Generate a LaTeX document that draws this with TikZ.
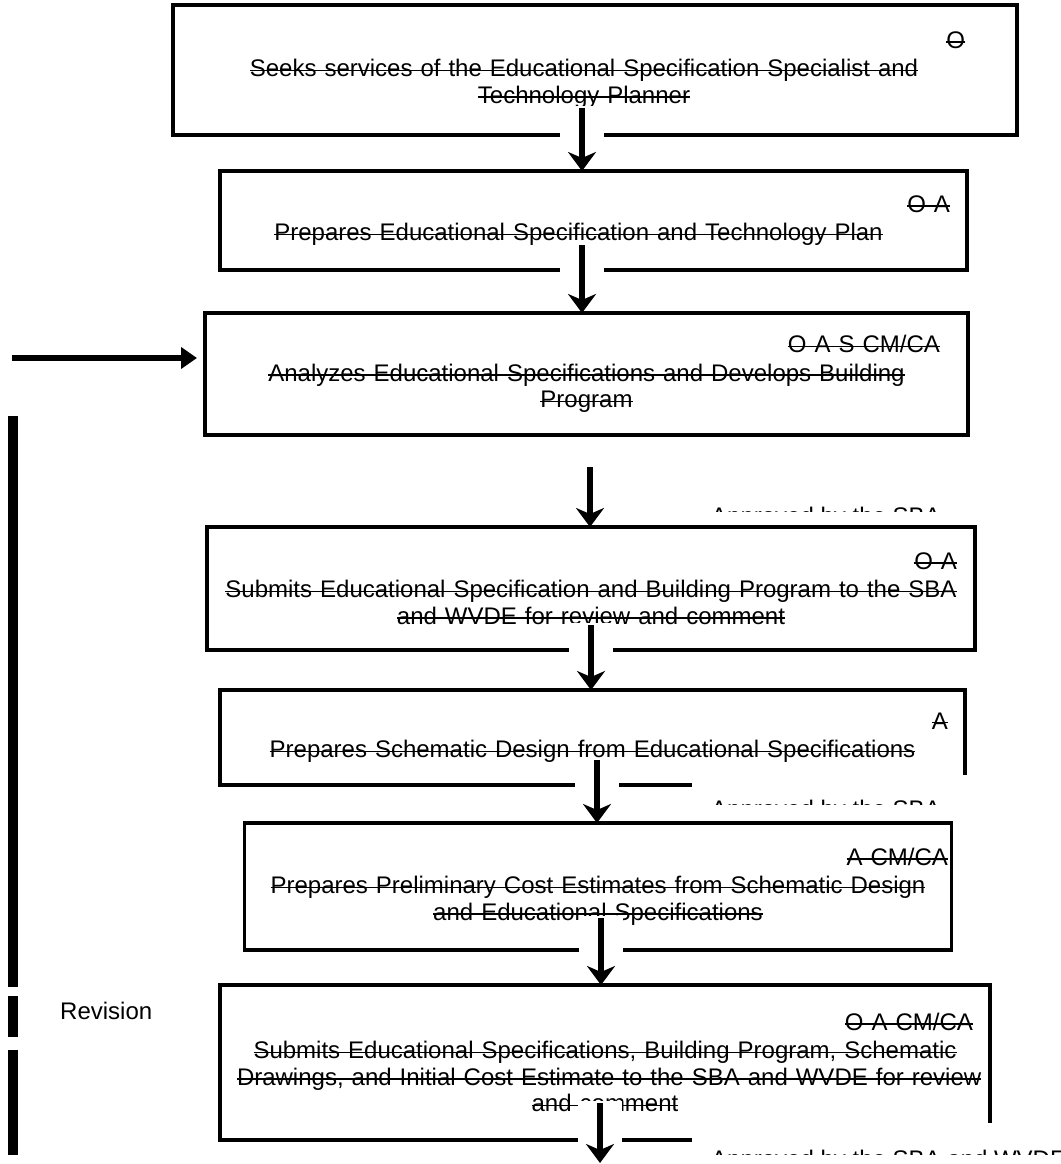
\documentclass[tikz,border=0pt]{standalone}
\usepackage{fontspec}
\setmainfont{Liberation Sans}
\usetikzlibrary{positioning,calc,arrows.meta}
\tikzset{
    >={Stealth[length=19pt,width=28pt,inset=6pt]},
    stepbox/.style={
        rectangle,
        draw=black, line width=3.5pt,
        outer sep=0pt,
        align=center,
        font={\fontsize{24pt}{26.5pt}\selectfont}
    },
    flow/.style={->, line width=6.5pt,
        preaction={draw=white, line width=44pt, arrows=-,
                   shorten >=18pt, shorten <=-2pt}},
    feed/.style={-{Triangle[length=16pt,width=21pt]}, line width=6.5pt},
    note/.style={anchor=base west, inner sep=0pt,
        font={\fontsize{24pt}{26.5pt}\selectfont}},
}
\newsavebox{\strikebox}
\newcommand{\strike}[1]{\leavevmode\sbox{\strikebox}{#1}%
    \rlap{\rule[5.6pt]{\wd\strikebox}{1.3pt}}\usebox{\strikebox}}
\newcommand{\who}[1]{\leavevmode\hspace*{\fill}\strike{#1}\\[2pt]}

\begin{document}
\begin{tikzpicture}[x=1pt,y=-1pt]
    \useasboundingbox (0,0) rectangle (1060,1164);

    % Steps, top to bottom
    \node[stepbox, minimum width=844pt, minimum height=130pt, text width=740pt]
        (b1) at (595,70)
        {\who{O}\strike{Seeks services of the Educational Specification Specialist and}\kern22pt\\
         \strike{Technology Planner}\kern22pt};
    \node[stepbox, below=36pt of b1, xshift=-1.5pt,
          minimum width=747pt, minimum height=99pt, text width=713pt] (b2)
        {\who{O A}\strike{Prepares Educational Specification and Technology Plan}\kern30pt};
    \node[stepbox, below=43pt of b2, xshift=-7pt,
          minimum width=763pt, minimum height=122pt, text width=707pt] (b3)
        {\who{O A S CM/CA}\strike{Analyzes Educational Specifications and Develops Building}\\
         \strike{Program}};
    \node[stepbox, below=92pt of b3, xshift=4.5pt,
          minimum width=768pt, minimum height=123pt, text width=732pt] (b4)
        {\who{O A}\strike{Submits Educational Specification and Building Program to the SBA}\\
         \strike{and WVDE for review and comment}};
    \node[stepbox, below=40pt of b4, xshift=1.5pt,
          minimum width=745pt, minimum height=95pt, text width=711pt] (b5)
        {\who{A}\strike{Prepares Schematic Design from Educational Specifications}};
    \node[stepbox, below=38pt of b5, xshift=5.5pt,
          minimum width=698pt, minimum height=127pt, text width=700pt] (b6)
        {\who{A CM/CA}\strike{Prepares Preliminary Cost Estimates from Schematic Design}\\
         \strike{and Educational Specifications}};
    \node[stepbox, below=35pt of b6, xshift=7pt,
          minimum width=770pt, minimum height=155pt, text width=736pt] (b7)
        {\who{O A CM/CA}\strike{Submits Educational Specifications, Building Program, Schematic}\\
         \strike{Drawings, and Initial Cost Estimate to the SBA and WVDE for review}\\
         \strike{and comment}};

    % Free ends
    \coordinate (next) at (600,1163);
    \coordinate (in)   at (12,358);
    \coordinate (bartop) at (13,416);
    \coordinate (barbot) at (13,1155);

    \draw[flow] ([xshift=-13pt,yshift=27pt]b1.south) -- ([xshift=-11.5pt]b2.north);
    \draw[flow] ([xshift=-11.5pt,yshift=25pt]b2.south) -- ([xshift=-4.5pt]b3.north);
    \draw[flow] ([xshift=3.5pt,yshift=-32pt]b3.south) -- ([xshift=-1pt]b4.north);
    \draw[flow] ([yshift=25pt]b4.south) -- ([xshift=-1.5pt]b5.north);
    \draw[flow] ([xshift=4.5pt,yshift=25pt]b5.south) -- ([xshift=-1pt]b6.north);
    \draw[flow] ([xshift=3pt,yshift=32pt]b6.south) -- ([xshift=-4pt]b7.north);
    \draw[flow] ([xshift=-5pt,yshift=37pt]b7.south) -- (next);

    % Approval notes, cut off by their frames
    \begin{scope}
        \clip (692,482) rectangle (1060,511);
        \fill[white] (692,482) rectangle (1060,511);
        \node[note] (ok1) at (711,524.5) {Approved by the SBA};
    \end{scope}
    \begin{scope}
        \clip (692,775) rectangle (1060,804);
        \fill[white] (692,775) rectangle (1060,804);
        \node[note] (ok2) at (711,817.5) {Approved by the SBA};
    \end{scope}
    \begin{scope}
        \clip (692,1123) rectangle (1060,1154);
        \fill[white] (692,1123) rectangle (1060,1154);
        \node[note] (ok3) at (711,1167.5) {Approved by the SBA and WVDE};
    \end{scope}

    % Revision loop
    \draw[feed] (in) -- ($(in -| b3.west)+(-8,0)$);
    \draw[line width=10pt,
          dash pattern=on 571pt off 9pt on 41pt off 13pt on 105pt off 100pt]
        (bartop) -- (barbot);
    \node[note] (rev) at (60,1019) {Revision};

\end{tikzpicture}
\end{document}
